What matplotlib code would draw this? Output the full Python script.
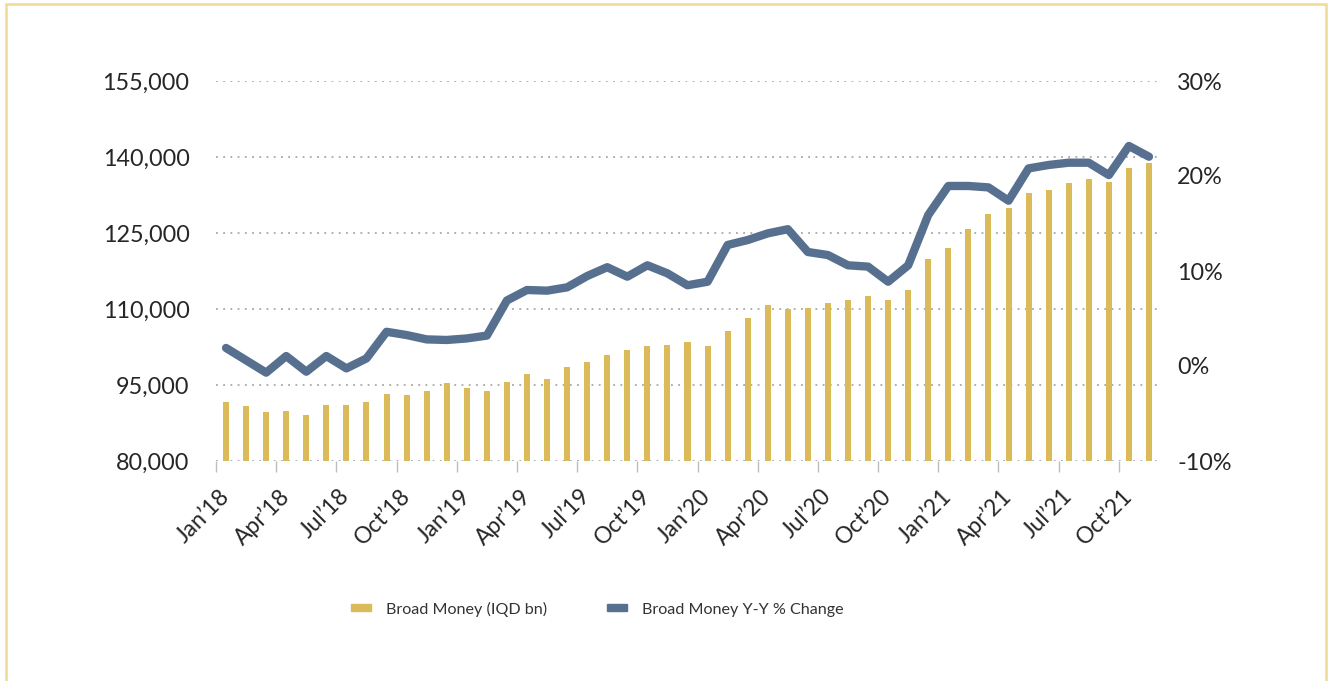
import matplotlib
matplotlib.use('Agg')
import matplotlib.pyplot as plt
from matplotlib.patches import Patch, Rectangle
from matplotlib.ticker import FuncFormatter
import numpy as np

# ---------------- data ----------------
tick_labels = ["Jan’18", "Apr’18", "Jul’18", "Oct’18",
               "Jan’19", "Apr’19", "Jul’19", "Oct’19",
               "Jan’20", "Apr’20", "Jul’20", "Oct’20",
               "Jan’21", "Apr’21", "Jul’21", "Oct’21"]

# Broad Money (IQD bn), monthly Jan'18 .. Nov'21
broad_money = [91650, 90860, 89670, 89870, 89080, 91050, 91050, 91650,
               93230, 93030, 93820, 95400, 94410, 93820, 95590, 97170,
               96190, 98560, 99540, 100920, 101910, 102700, 102900, 103490,
               102700, 105660, 108230, 110800, 110000, 110200, 111190, 111780,
               112570, 111780, 113760, 119870, 122050, 125800, 128760, 129950,
               132910, 133500, 134880, 135670, 135080, 137840, 138830]

# Broad Money Y-Y % change
yoy_change = [1.9, 0.6, -0.7, 1.05, -0.6, 1.05, -0.25, 0.8,
              3.6, 3.26, 2.8, 2.74, 2.9, 3.2, 6.9, 8.0,
              7.93, 8.28, 9.47, 10.4, 9.4, 10.6, 9.75, 8.5,
              8.87, 12.74, 13.26, 13.96, 14.4, 12.0, 11.68, 10.6,
              10.46, 8.87, 10.6, 15.9, 18.95, 18.95, 18.8, 17.4,
              20.8, 21.16, 21.4, 21.4, 20.1, 23.16, 22.03]

legend_labels = ["Broad Money (IQD bn)", "Broad Money Y-Y % Change"]

# ---------------- style ----------------
BAR = '#DBBA5A'
LINE = '#58708F'
GRID = '#a8a8a8'
TEXT = '#262626'
BORDER = '#F0DB96'

plt.rcParams['font.family'] = ['Lato', 'DejaVu Sans']

W, H = 1328, 681
fig = plt.figure(figsize=(W / 100, H / 100), dpi=100)
ax = fig.add_axes([216 / W, 1 - 461 / H, (1159 - 216) / W, (461 - 81) / H])

x = np.arange(len(broad_money))
ax.bar(x, broad_money, width=0.3, color=BAR, zorder=2)
ax.set_xlim(-0.5, len(x) - 0.5)
ax.set_ylim(80000, 155000)
ax.set_yticks(np.arange(80000, 155001, 15000))
ax.yaxis.set_major_formatter(FuncFormatter(lambda v, p: f"{v:,.0f}"))
ax.grid(axis='y', color=GRID, linestyle=(0, (1, 3)), linewidth=1.3, zorder=0)
ax.set_axisbelow(True)
for s in ax.spines.values():
    s.set_visible(False)
ax.tick_params(axis='y', length=0, pad=19, labelsize=16.8, labelcolor=TEXT)

# x axis: boundary ticks every quarter, labels at category centres
ax.set_xticks(np.arange(-0.5, len(x) - 1, 3))
ax.set_xticklabels([])
ax.tick_params(axis='x', which='major', length=8, width=1, color='#bdbdbd')
ax.set_xticks(np.arange(0, len(x), 3), minor=True)
ax.set_xticklabels(tick_labels, minor=True, rotation=45, ha='right',
                   rotation_mode='anchor', va='center')
ax.tick_params(axis='x', which='minor', length=0, pad=23, labelsize=16.5,
               labelcolor=TEXT)

# secondary axis: Y-Y % change
ax2 = ax.twinx()
ax2.plot(x, yoy_change, color=LINE, linewidth=6, solid_capstyle='round',
         solid_joinstyle='round', zorder=3)
ax2.set_ylim(-10, 30)
ax2.set_yticks(np.arange(-10, 31, 10))
ax2.yaxis.set_major_formatter(FuncFormatter(lambda v, p: f"{v:.0f}%"))
for s in ax2.spines.values():
    s.set_visible(False)
ax2.tick_params(axis='y', length=0, pad=13, labelsize=16.8, labelcolor=TEXT)

# legend
handles = [Patch(color=BAR), Patch(color=LINE)]
leg = fig.legend(handles, legend_labels, loc='center',
                 bbox_to_anchor=(597 / W, 1 - 609 / H), ncol=2, frameon=False,
                 fontsize=11.6, handlelength=1.25, handleheight=0.28,
                 handletextpad=0.92, columnspacing=3.7)
for t in leg.get_texts():
    t.set_color('#333333')

# frame border
fig.add_artist(Rectangle((6 / W, -0.05), (1326 - 6) / W, 1.05 - 4 / H,
                         fill=False, edgecolor=BORDER, linewidth=1.8,
                         transform=fig.transFigure))

fig.savefig('out.png', dpi=100)
